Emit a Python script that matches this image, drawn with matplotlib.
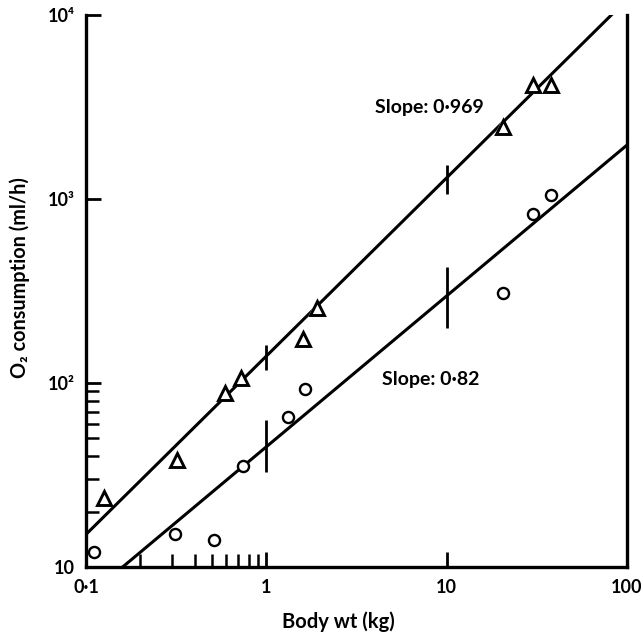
import numpy as np
import matplotlib.pyplot as plt
from matplotlib.ticker import FixedLocator, FixedFormatter, NullFormatter

plt.rcParams['font.family'] = ['Lato', 'DejaVu Sans']

# triangles (upper series)
tri_x = [0.126, 0.32, 0.59, 0.72, 1.6, 1.9, 20.5, 30, 37.8]
tri_y = [23.7, 38, 88, 107, 174, 257, 2450, 4170, 4170]

# circles (lower series)
circ_x = [0.111, 0.31, 0.51, 0.74, 1.32, 1.63, 20.5, 30, 37.8]
circ_y = [12, 15.1, 14, 35.4, 65, 93, 309, 830, 1050]

# regression lines y = a * x^b
upper_a, upper_b = 140, 0.969
lower_a, lower_b = 45, 0.82

# vertical bars on the lines at x = 1 and 10
bar_x = [1, 10]
upper_bar_lo = [118, 1070]
upper_bar_hi = [161, 1530]
lower_bar_lo = [33, 198]
lower_bar_hi = [63, 427]

x_major = [0.1, 1, 10, 100]
x_major_labels = ['0·1', '1', '10', '100']
x_minor = [0.2, 0.3, 0.4, 0.5, 0.6, 0.7, 0.8, 0.9]
y_major = [10, 100, 1000, 10000]
y_major_labels = ['10', '10²', '10³', '10⁴']
y_minor = [20, 30, 40, 50, 60, 70, 80, 90]

fig = plt.figure(figsize=(6.44, 6.36), dpi=100)
ax = fig.add_axes([0.1335, 0.1085, 0.8401, 0.8679])
ax.set_xscale('log')
ax.set_yscale('log')
ax.set_xlim(0.1, 100)
ax.set_ylim(10, 10000)

xx = np.logspace(-1, 2, 200)
ax.plot(xx, upper_a * xx ** upper_b, color='black', lw=2.2, zorder=2)
ax.plot(xx, lower_a * xx ** lower_b, color='black', lw=2.2, zorder=2)

ax.vlines(bar_x, upper_bar_lo, upper_bar_hi, color='black', lw=2.0, zorder=2)
ax.vlines(bar_x, lower_bar_lo, lower_bar_hi, color='black', lw=2.0, zorder=2)

# white halos so the lines break around the markers
ax.plot(tri_x, tri_y, '^', ms=13.5, mfc='white', mec='white', mew=0, ls='none', zorder=3)
ax.plot(tri_x, tri_y, '^', ms=9.5, mfc='white', mec='black', mew=2.1, ls='none', zorder=4)
ax.plot(circ_x, circ_y, 'o', ms=8, mfc='white', mec='black', mew=1.7, ls='none', zorder=4)

ax.text(4.03, 3150, 'Slope: 0·969', fontsize=14, fontweight='bold', va='center', ha='left')
ax.text(4.4, 104, 'Slope: 0·82', fontsize=14, fontweight='bold', va='center', ha='left')

ax.xaxis.set_major_locator(FixedLocator(x_major))
ax.xaxis.set_major_formatter(FixedFormatter(x_major_labels))
ax.xaxis.set_minor_locator(FixedLocator(x_minor))
ax.xaxis.set_minor_formatter(NullFormatter())
ax.yaxis.set_major_locator(FixedLocator(y_major))
ax.yaxis.set_major_formatter(FixedFormatter(y_major_labels))
ax.yaxis.set_minor_locator(FixedLocator(y_minor))
ax.yaxis.set_minor_formatter(NullFormatter())

ax.tick_params(which='major', direction='in', length=11, width=2.0, labelsize=13, pad=9)
ax.tick_params(which='minor', direction='in', length=9.5, width=1.8)
ax.tick_params(axis='y', pad=8)
for lab in ax.get_xticklabels() + ax.get_yticklabels():
    lab.set_fontweight('bold')

ax.spines['top'].set_visible(False)
for s in ['left', 'bottom', 'right']:
    ax.spines[s].set_linewidth(2.4)

ax.set_xlabel('Body wt (kg)', fontsize=14.5, fontweight='bold')
ax.set_ylabel('O₂ consumption (ml/h)', fontsize=14.3, fontweight='bold')
ax.xaxis.set_label_coords(0.466, -0.08)
ax.yaxis.set_label_coords(-0.104, 0.524)

fig.savefig('out.png', dpi=100)
